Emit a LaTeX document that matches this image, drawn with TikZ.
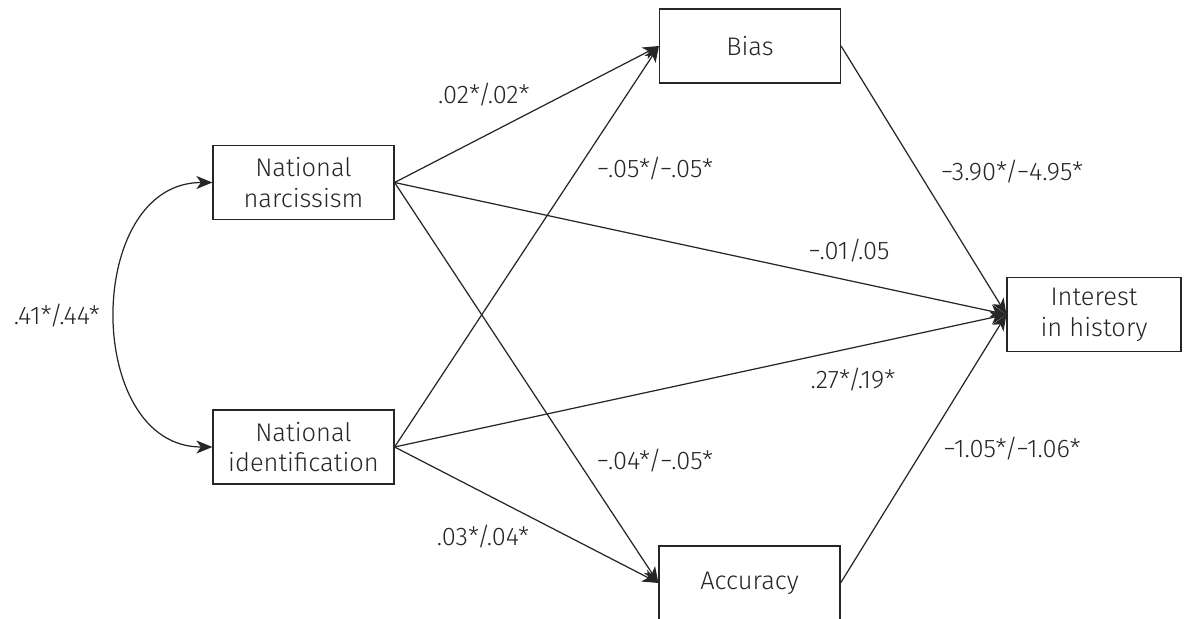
\documentclass[tikz,border=0pt]{standalone}
\usepackage{fontspec}
\setmainfont{Fira Sans}[UprightFont=* Light]
\usetikzlibrary{arrows.meta}
\tikzset{edge/.style = {->,> = {Stealth[length=3.2mm,width=2.6mm,inset=0.9mm]}}}

\begin{document}
\begin{tikzpicture}[x=0.02cm,y=-0.02cm,line width=0.7pt,color=black!85,
  every node/.style={font=\fontsize{14.5}{17.5}\selectfont},
  main node/.style={rectangle,draw,minimum width=3.62cm,minimum height=1.48cm,align=center,inner sep=2pt}]
\useasboundingbox (0,0) rectangle (1184,619);
\clip (0,0) rectangle (1184,619);
            \node[main node] (nn) at (303.5,182.5) {National\\narcissism};
            \node[main node] (ni) at (303.5,447) {National\\identification};
            \node[main node] (bias) at (750,46) {Bias};
            \node[main node] (acc) at (749.5,583) {Accuracy};
            \node[main node,minimum width=3.48cm] (int) at (1094,314.5) {Interest\\in history};
            \path[edge]
                (nn.east) edge (bias.west)
                (nn.east) edge (int.west)
                (nn.east) edge (acc.west)
                (ni.east) edge (bias.west)
                (ni.east) edge (int.west)
                (ni.east) edge (acc.west)
                (bias.east) edge (int.west)
                (acc.east) edge (int.west);
            \draw[edge,<->] (nn.west) to[out=180,in=180,looseness=1.25] (ni.west);
            % path weights
            \node (w1) at (484,95) {.02*/.02*};
            \node (w2) at (655,169) {−.05*/−.05*};
            \node (w3) at (849,251) {−.01/.05};
            \node (w4) at (853,380) {.27*/.19*};
            \node (w5) at (655,461) {−.04*/−.05*};
            \node (w6) at (483,537) {.03*/.04*};
            \node (w7) at (1012,172) {−3.90*/−4.95*};
            \node (w8) at (1012,449) {−1.05*/−1.06*};
            \node (w9) at (57,316) {.41*/.44*};
        \end{tikzpicture}
\end{document}
